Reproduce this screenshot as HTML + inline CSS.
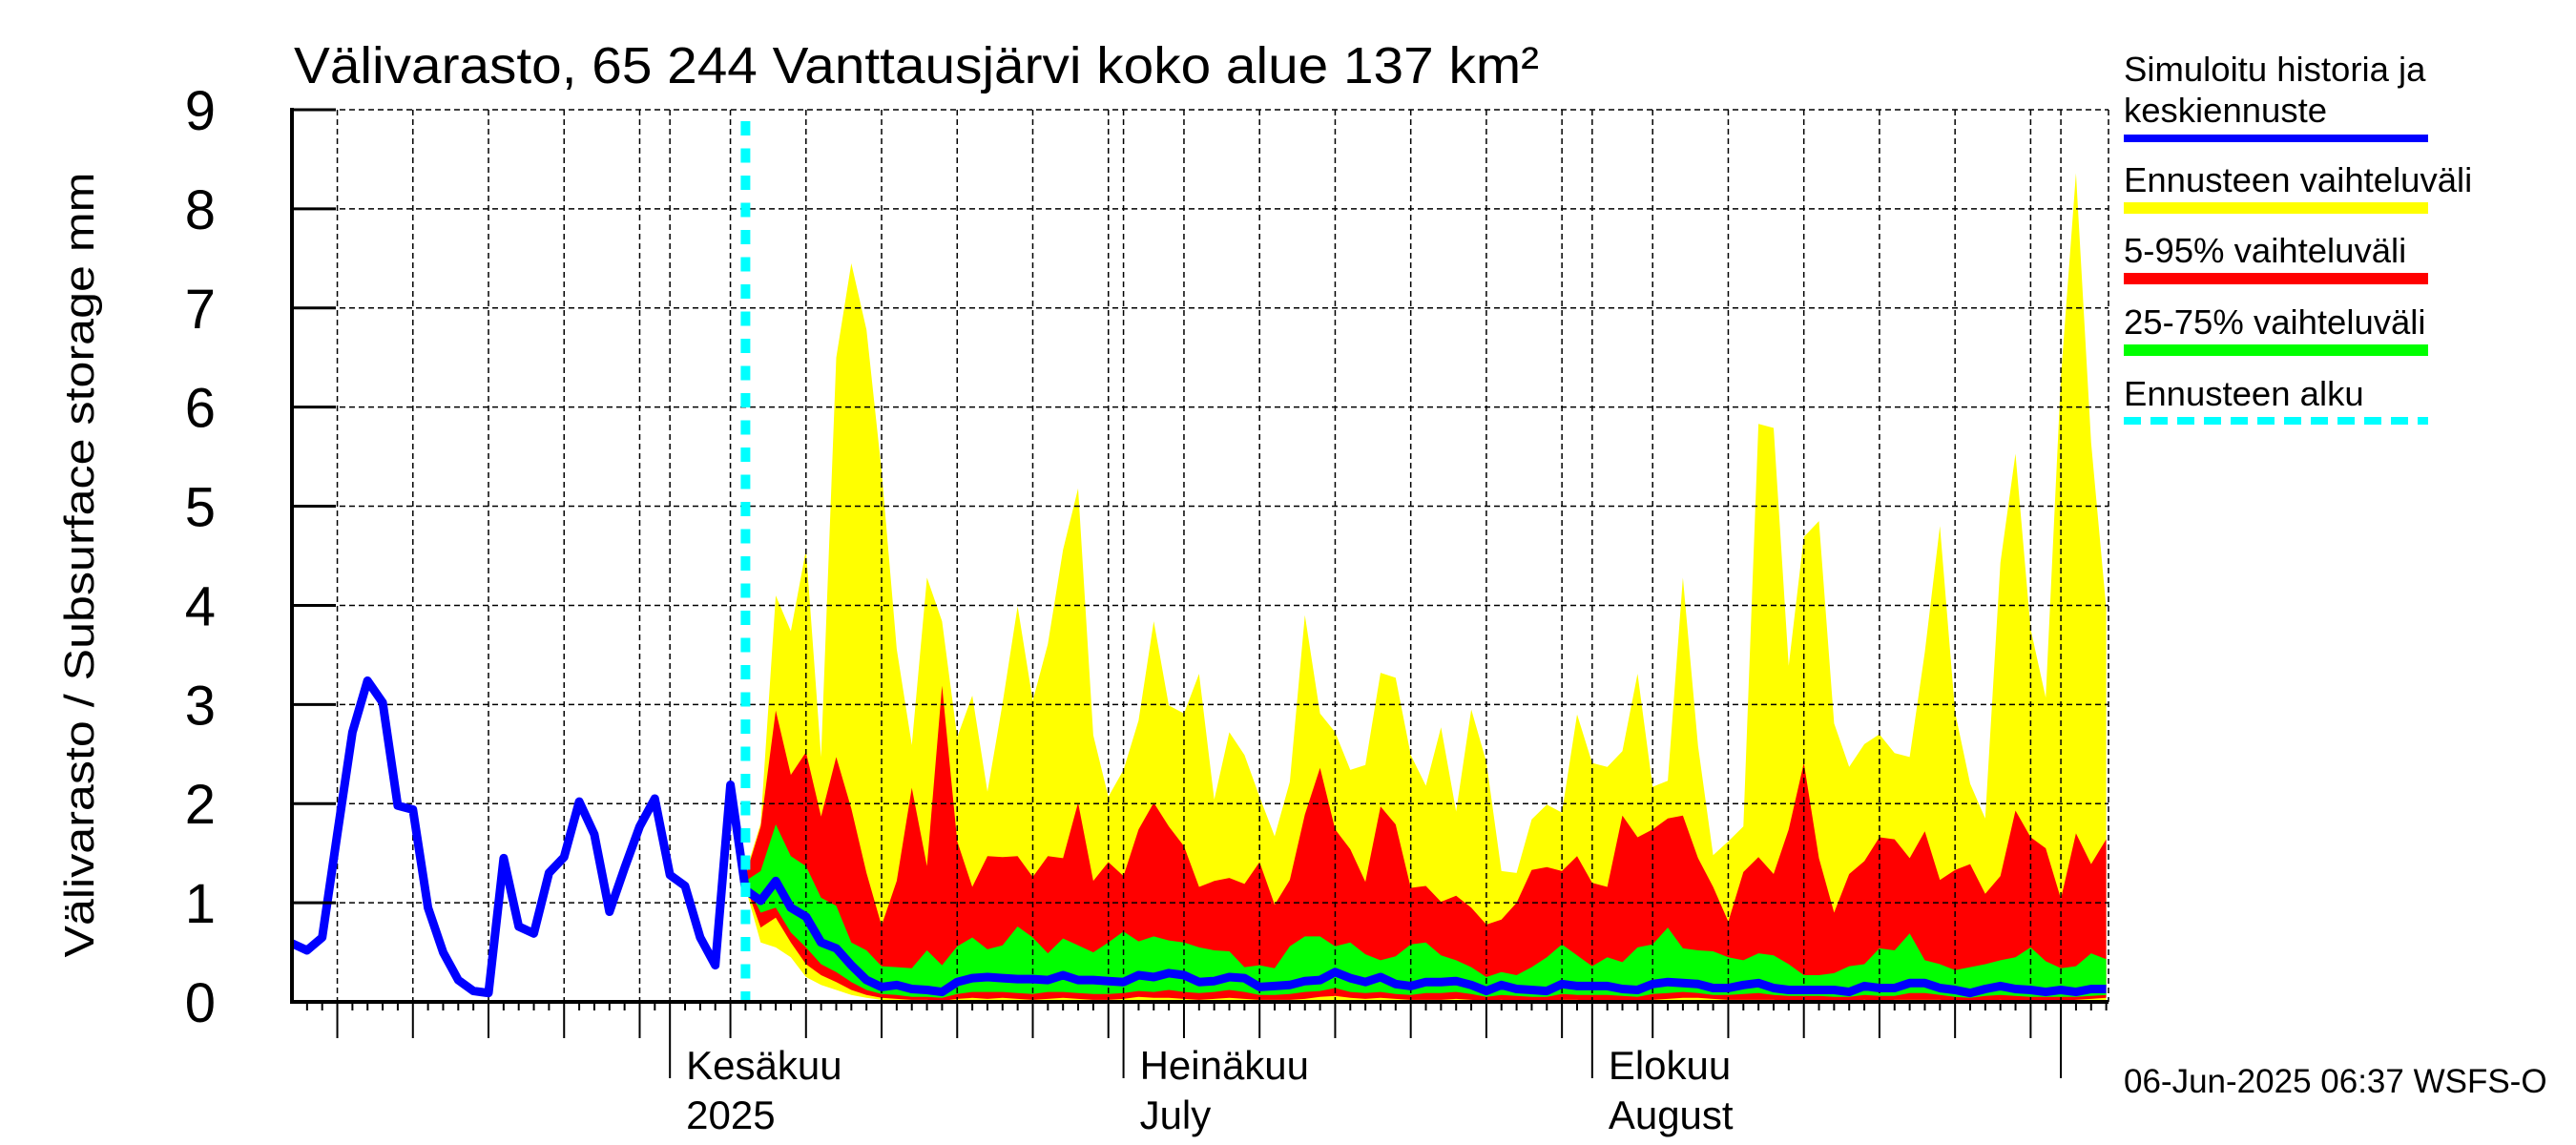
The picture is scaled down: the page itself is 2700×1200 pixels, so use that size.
<!DOCTYPE html>
<html><head><meta charset="utf-8"><title>Välivarasto</title>
<style>html,body{margin:0;padding:0;background:#fff}svg{display:block}text{font-family:"Liberation Sans",sans-serif;fill:#000}</style>
</head><body>
<svg id="chart" width="2700" height="1200" viewBox="0 0 2700 1200" xmlns="http://www.w3.org/2000/svg">
<g id="bands"></g>
<g id="grid"></g>
<g id="series"></g>
<g id="axes"></g>
<text x="308" y="87" font-size="54" textLength="1305" lengthAdjust="spacingAndGlyphs">Välivarasto, 65 244 Vanttausjärvi koko alue 137 km²</text>
<text transform="translate(98,592) rotate(-90)" text-anchor="middle" font-size="44" textLength="823" lengthAdjust="spacingAndGlyphs">Välivarasto / Subsurface storage  mm</text>
<g>
<text x="2226" y="85" font-size="36.5">Simuloitu historia ja</text>
<text x="2226" y="128" font-size="36.5">keskiennuste</text>
<line x1="2226" y1="145" x2="2545" y2="145" stroke="#0000ff" stroke-width="8"/>
<text x="2226" y="201" font-size="36.5">Ennusteen vaihteluväli</text>
<line x1="2226" y1="218" x2="2545" y2="218" stroke="#ffff00" stroke-width="12"/>
<text x="2226" y="275" font-size="36.5">5-95% vaihteluväli</text>
<line x1="2226" y1="292" x2="2545" y2="292" stroke="#ff0000" stroke-width="12"/>
<text x="2226" y="350" font-size="36.5">25-75% vaihteluväli</text>
<line x1="2226" y1="367" x2="2545" y2="367" stroke="#00ff00" stroke-width="12"/>
<text x="2226" y="425" font-size="36.5">Ennusteen alku</text>
<line x1="2226" y1="441" x2="2545" y2="441" stroke="#00ffff" stroke-width="8" stroke-dasharray="18,10"/>
</g>
<text x="2226" y="1145" font-size="35">06-Jun-2025 06:37 WSFS-O</text>
</svg>
<script>
// days relative to 1 June 2025
const histStart = -25;
const history = [0.59,0.52,0.65,1.69,2.72,3.24,3.02,1.98,1.94,0.95,0.5,0.22,0.11,0.09,1.45,0.76,0.69,1.3,1.46,2.02,1.69,0.91,1.35,1.77,2.05,1.28,1.17,0.65,0.37,2.19];
const fcStart = 5;
const median = [1.13,1.02,1.22,0.95,0.86,0.6,0.54,0.37,0.22,0.15,0.17,0.13,0.12,0.1,0.2,0.24,0.25,0.24,0.23,0.23,0.22,0.27,0.22,0.22,0.21,0.2,0.27,0.25,0.29,0.27,0.2,
0.21,0.25,0.24,0.15,0.16,0.17,0.21,0.22,0.3,0.24,0.2,0.25,0.18,0.16,0.2,0.2,0.21,0.17,0.11,0.17,0.13,0.12,0.11,0.18,0.16,0.16,0.16,0.13,0.12,0.18,
0.2,0.19,0.18,0.14,0.14,0.17,0.19,0.14,0.12,0.12,0.12,0.12,0.1,0.16,0.14,0.14,0.19,0.19,0.14,0.12,0.09,0.13,0.16,0.13,0.12,0.1,0.12,0.1,0.13,0.13];
const yellowMax = [1.3,1.8,4.1,3.74,4.56,2.47,6.5,7.45,6.78,5.36,3.56,2.59,4.28,3.84,2.67,3.09,2.12,3.01,3.99,3.04,3.61,4.56,5.18,2.69,2.07,2.34,2.84,3.84,2.99,2.91,3.31,
2.04,2.72,2.49,2.07,1.67,2.22,3.9,2.91,2.72,2.34,2.39,3.32,3.27,2.49,2.18,2.77,1.92,2.95,2.42,1.32,1.3,1.84,1.99,1.91,2.9,2.41,2.37,2.53,3.31,2.17,
2.23,4.28,2.58,1.48,1.62,1.77,5.83,5.79,3.39,4.69,4.85,2.81,2.37,2.6,2.7,2.51,2.47,3.53,4.8,2.92,2.2,1.85,4.43,5.53,3.76,3.07,6.3,8.36,5.64,3.97];
const redMax = [1.27,1.77,2.94,2.29,2.52,1.87,2.47,1.95,1.3,0.77,1.22,2.16,1.37,3.19,1.62,1.16,1.47,1.46,1.47,1.26,1.47,1.45,2.01,1.22,1.41,1.27,1.74,2.01,1.77,1.57,1.16,
1.22,1.25,1.19,1.41,0.98,1.23,1.89,2.36,1.74,1.54,1.21,1.97,1.79,1.15,1.17,1.01,1.07,0.95,0.78,0.83,1.0,1.33,1.36,1.32,1.47,1.2,1.16,1.88,1.66,1.74,
1.85,1.88,1.45,1.16,0.81,1.31,1.46,1.29,1.74,2.41,1.45,0.9,1.29,1.42,1.66,1.64,1.45,1.72,1.23,1.33,1.39,1.09,1.27,1.93,1.66,1.55,1.04,1.7,1.39,1.64];
const greenMax = [1.22,1.32,1.79,1.47,1.37,1.05,0.97,0.6,0.52,0.36,0.35,0.34,0.52,0.37,0.56,0.65,0.53,0.57,0.76,0.65,0.49,0.64,0.57,0.5,0.6,0.71,0.61,0.66,0.62,0.6,0.55,
0.52,0.51,0.35,0.37,0.34,0.56,0.66,0.66,0.56,0.6,0.48,0.42,0.46,0.58,0.6,0.47,0.42,0.35,0.25,0.3,0.27,0.35,0.45,0.58,0.47,0.36,0.45,0.4,0.55,0.58,
0.75,0.54,0.52,0.51,0.45,0.42,0.49,0.47,0.38,0.27,0.27,0.29,0.36,0.38,0.54,0.52,0.69,0.42,0.38,0.32,0.35,0.38,0.42,0.45,0.55,0.41,0.34,0.36,0.49,0.43];
const greenMin = [1.2,0.9,0.95,0.7,0.55,0.38,0.3,0.2,0.12,0.08,0.07,0.05,0.05,0.04,0.08,0.1,0.1,0.1,0.09,0.08,0.1,0.1,0.09,0.08,0.08,0.09,0.11,0.1,0.12,0.1,0.09,
0.1,0.12,0.1,0.07,0.07,0.08,0.1,0.11,0.14,0.1,0.09,0.1,0.08,0.07,0.09,0.09,0.1,0.08,0.05,0.07,0.06,0.05,0.05,0.08,0.07,0.07,0.07,0.06,0.05,0.08,
0.09,0.1,0.09,0.07,0.07,0.08,0.09,0.07,0.06,0.06,0.06,0.05,0.05,0.07,0.06,0.06,0.09,0.09,0.07,0.05,0.04,0.06,0.07,0.06,0.05,0.05,0.05,0.05,0.06,0.07];
const redMin = [1.18,0.75,0.85,0.6,0.38,0.27,0.2,0.12,0.07,0.04,0.03,0.02,0.02,0.01,0.03,0.04,0.03,0.04,0.03,0.02,0.03,0.04,0.03,0.02,0.02,0.03,0.05,0.04,0.04,0.03,0.02,
0.03,0.04,0.03,0.02,0.02,0.02,0.03,0.05,0.06,0.04,0.03,0.04,0.03,0.02,0.02,0.02,0.03,0.02,0.01,0.02,0.01,0.01,0.01,0.02,0.02,0.01,0.01,0.01,0.01,0.02,
0.03,0.04,0.04,0.03,0.02,0.02,0.02,0.02,0.01,0.01,0.01,0.01,0.01,0.02,0.01,0.02,0.02,0.02,0.02,0.01,0.01,0.01,0.02,0.01,0.01,0.01,0.01,0.02,0.03,0.04];
const yellowMin = [1.15,0.6,0.55,0.45,0.25,0.17,0.12,0.07,0.04,0.02,0.01,0.01,0,0,0,0,0,0,0,0,0,0,0,0,0,0,0,0,0,0,0,
0,0,0,0,0,0,0,0,0,0,0,0,0,0,0,0,0,0,0,0,0,0,0,0,0,0,0,0,0,0,
0,0,0,0,0,0,0,0,0,0,0,0,0,0,0,0,0,0,0,0,0,0,0,0,0,0,0,0,0,0];
const yTicks = ["0","1","2","3","4","5","6","7","8","9"];
const monthLabels = [["Kesäkuu","2025",0],["Heinäkuu","July",30],["Elokuu","August",61],["","",92]];

const NS = "http://www.w3.org/2000/svg";
const X0 = 306, X1 = 2210, Y0 = 1050, Y1 = 115;
const DAY0 = -25, DAY1 = 95.15;
const xs = d => X0 + (d - DAY0) * (X1 - X0) / (DAY1 - DAY0);
const ys = v => Y0 - v * (Y0 - Y1) / 9;
function mk(tag, attrs, parent){ const e = document.createElementNS(NS, tag); for (const k in attrs) e.setAttribute(k, attrs[k]); parent.appendChild(e); return e; }

const bands = document.getElementById('bands');
function band(top, bot, color, name){
  let pts = [];
  top.forEach((v,i)=>pts.push(xs(fcStart+i).toFixed(1)+','+ys(v).toFixed(1)));
  for (let i = bot.length-1; i >= 0; i--) pts.push(xs(fcStart+i).toFixed(1)+','+ys(bot[i]).toFixed(1));
  const p = mk('polygon', {points: pts.join(' '), fill: color}, bands);
  
  
}
band(yellowMax, yellowMin, '#ffff00', 'band-forecast-range');
band(redMax, redMin, '#ff0000', 'band-5-95');
band(greenMax, greenMin, '#00ff00', 'band-25-75');

const grid = document.getElementById('grid');
for (let v = 1; v <= 9; v++) {
  const l = mk('line', {x1: X0, x2: X1, y1: ys(v), y2: ys(v), stroke: '#000', 'stroke-width': 1.5, 'stroke-dasharray': '6,4'}, grid);
  
  
}
const gridDays = [-22,-17,-12,-7,-2,0,4,9,14,19,24,29,30,34,39,44,49,54,59,61,65,70,75,80,85,90,92];
gridDays.forEach(d=>{
  const l = mk('line', {x1: xs(d), x2: xs(d), y1: Y1, y2: Y0, stroke: '#000', 'stroke-width': 1.5, 'stroke-dasharray': '6,4'}, grid);
  
  
});
const rb = mk('line', {x1: X1, x2: X1, y1: Y1, y2: Y0, stroke: '#000', 'stroke-width': 1.5, 'stroke-dasharray': '6,4'}, grid);



const series = document.getElementById('series');
const allVals = history.concat(median);
let d = 'M';
allVals.forEach((v,i)=>{ d += (i ? ' L' : '') + xs(histStart+i).toFixed(1) + ',' + ys(v).toFixed(1); });
const bl = mk('path', {d: d, fill: 'none', stroke: '#0000ff', 'stroke-width': 9, 'stroke-linejoin': 'round'}, series);


const cy = mk('line', {x1: xs(fcStart), x2: xs(fcStart), y1: Y1 + 12, y2: Y0, stroke: '#00ffff', 'stroke-width': 10, 'stroke-dasharray': '15,13.5'}, series);



const axes = document.getElementById('axes');
const ax1 = mk('line', {x1: X0, x2: X0, y1: Y1 - 2, y2: Y0 + 2, stroke: '#000', 'stroke-width': 4}, axes);


const ax2 = mk('line', {x1: X0, x2: X1, y1: Y0, y2: Y0, stroke: '#000', 'stroke-width': 4}, axes);


yTicks.forEach((t,i)=>{
  const l = mk('line', {x1: X0, x2: X0 + 46, y1: ys(i), y2: ys(i), stroke: '#000', 'stroke-width': 3}, axes);
  
  
  const tx = mk('text', {x: 226, y: ys(i) + 21, 'text-anchor': 'end', 'font-size': 58}, axes);
  tx.textContent = t;
  
  
});
for (let dd = DAY0 + 1; dd < DAY1; dd++) {
  let len = 9;
  if (gridDays.indexOf(dd) >= 0) len = 38;
  if (monthLabels.some(m=>m[2]===dd)) len = 80;
  const l = mk('line', {x1: xs(dd), x2: xs(dd), y1: Y0, y2: Y0 + len, stroke: '#000', 'stroke-width': 2}, axes);
  
  
}
monthLabels.forEach(m=>{
  if (!m[0]) return;
  const t1 = mk('text', {x: xs(m[2]) + 17, y: 1131, 'font-size': 42}, axes);
  t1.textContent = m[0];
  
  
  const t2 = mk('text', {x: xs(m[2]) + 17, y: 1183, 'font-size': 42}, axes);
  t2.textContent = m[1];
  
  
});
</script>
</body></html>
